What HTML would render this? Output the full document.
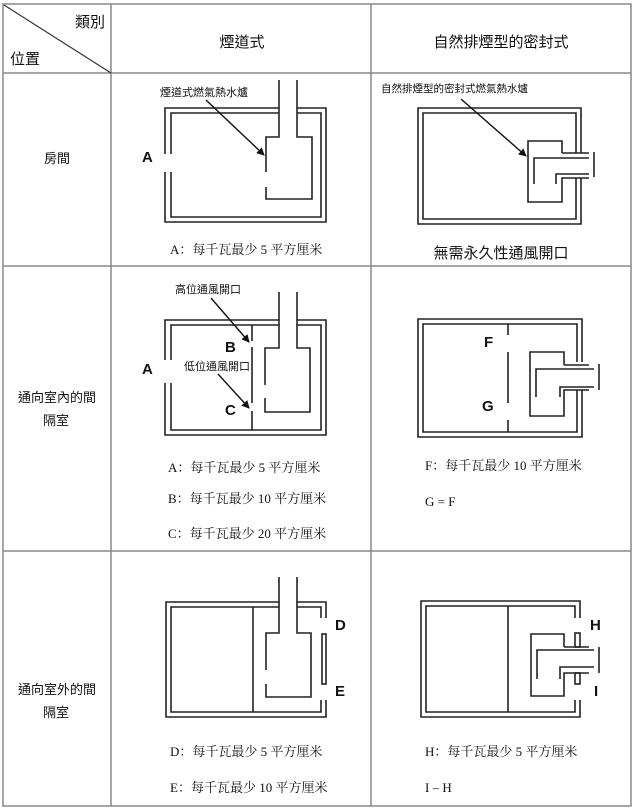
<!DOCTYPE html>
<html><head><meta charset="utf-8"><style>
html,body{margin:0;padding:0;background:#fff;width:634px;height:808px;overflow:hidden}
svg text{font-family:"Liberation Sans","Noto Sans CJK TC",sans-serif;fill:#111}
.s{font-family:"Liberation Serif","Noto Serif CJK SC",serif !important}
.b{font-weight:bold;font-size:15px}
</style></head><body>
<svg width="634" height="808" viewBox="0 0 634 808" xmlns="http://www.w3.org/2000/svg">
<defs><marker id="ar" markerWidth="8" markerHeight="8" refX="7" refY="4" orient="auto" markerUnits="userSpaceOnUse"><path d="M0,0 L8,4 L0,8 z" fill="#111"/></marker></defs>
<!-- table -->
<g stroke="#888" stroke-width="1.5" fill="none">
<rect x="3" y="4" width="628" height="802"/>
<line x1="111" y1="4" x2="111" y2="806"/>
<line x1="371" y1="4" x2="371" y2="806"/>
<line x1="3" y1="73" x2="631" y2="73"/>
<line x1="3" y1="266" x2="631" y2="266"/>
<line x1="3" y1="551" x2="631" y2="551"/>
</g>
<line x1="4" y1="5" x2="111" y2="73" stroke="#333" stroke-width="1.2"/>
<text x="75" y="27" font-size="15">類別</text>
<text x="10" y="64" font-size="15">位置</text>
<text x="242" y="47" font-size="15" text-anchor="middle">煙道式</text>
<text x="501" y="47" font-size="15" text-anchor="middle">自然排煙型的密封式</text>
<text x="57" y="163" font-size="13" text-anchor="middle">房間</text>
<text x="18" y="402" font-size="13">通向室內的間</text>
<text x="43" y="425" font-size="13">隔室</text>
<text x="18" y="694" font-size="13">通向室外的間</text>
<text x="43" y="717" font-size="13">隔室</text>

<g stroke="#222" stroke-width="1.6" fill="none">
<!-- cell 1 left -->
<polyline points="165,154 165,108 279,108"/><polyline points="297,108 326,108 326,222 165,222 165,172"/>
<polyline points="171,154 171,113 279,113"/><polyline points="297,113 321,113 321,217 171,217 171,172"/>
<polyline points="279,80 279,137 266,137 266,172"/>
<polyline points="297,80 297,137 312,137 312,199 266,199 266,187"/>
<!-- cell 1 right -->
<polyline points="581,153 581,108 418,108 418,224 581,224 581,178"/>
<polyline points="576,153 576,113 423,113 423,219 576,219 576,178"/>
<polyline points="562,153 562,141 528,141 528,202 562,202 562,178 589,178"/>
<polyline points="562,153 589,153"/>
<polyline points="534,184 534,158 589,158"/>
<polyline points="556,184 556,174 589,174"/>
<line x1="594" y1="152" x2="594" y2="177"/>
<!-- cell 2 left -->
<polyline points="165,360 165,320 279,320"/><polyline points="297,320 326,320 326,435 165,435 165,383"/>
<polyline points="171,360 171,325 279,325"/><polyline points="297,325 321,325 321,430 171,430 171,383"/>
<line x1="252" y1="325" x2="252" y2="341"/><line x1="252" y1="347" x2="252" y2="403"/><line x1="252" y1="411" x2="252" y2="430"/>
<polyline points="279,292 279,348 265,348 265,385"/>
<polyline points="297,292 297,348 310,348 310,412 265,412 265,398"/>
<!-- cell 2 right -->
<polyline points="582,362 582,319 418,319 418,437 582,437 582,390"/>
<polyline points="577,362 577,324 423,324 423,432 577,432 577,390"/>
<line x1="508" y1="324" x2="508" y2="335"/><line x1="508" y1="352" x2="508" y2="403"/><line x1="508" y1="420" x2="508" y2="432"/>
<polyline points="564,365 564,352 530,352 530,416 564,416 564,390 589,390"/>
<polyline points="564,365 589,365"/>
<polyline points="536,397 536,369 594,369"/>
<polyline points="560,397 560,387 594,387"/>
<line x1="599" y1="364" x2="599" y2="390"/>
<!-- cell 3 left -->
<polyline points="279,602 166,602 166,717 326,717 326,700"/><polyline points="297,602 326,602 326,618"/>
<polyline points="279,607 171,607 171,712 321,712 321,700"/><polyline points="297,607 321,607 321,618"/>
<rect x="322" y="634" width="4" height="50"/>
<line x1="253" y1="607" x2="253" y2="712"/>
<polyline points="279,577 279,633 266,633 266,670"/>
<polyline points="297,577 297,633 311,633 311,697 266,697 266,684"/>
<!-- cell 3 right -->
<polyline points="580,618 580,601 421,601 421,717 580,717 580,700"/>
<polyline points="575,618 575,606 426,606 426,712 575,712 575,700"/>
<line x1="508" y1="606" x2="508" y2="712"/>
<rect x="575" y="633" width="5" height="14"/><rect x="575" y="673" width="5" height="11"/>
<polyline points="564,647 564,634 531,634 531,696 564,696 564,673 589,673"/>
<polyline points="564,647 589,647"/>
<polyline points="537,679 537,650 594,650"/>
<polyline points="560,679 560,667 594,667"/>
<line x1="599" y1="647" x2="599" y2="673"/>
</g>
<g stroke="#111" stroke-width="1.4">
<line x1="206" y1="100" x2="264" y2="155" marker-end="url(#ar)"/>
<line x1="461" y1="99" x2="526" y2="156" marker-end="url(#ar)"/>
<line x1="211" y1="298" x2="249" y2="342" marker-end="url(#ar)"/>
<line x1="218" y1="374" x2="249" y2="408" marker-end="url(#ar)"/>
</g>
<text x="160" y="96" font-size="11">煙道式燃氣熱水爐</text>
<text x="381" y="92" font-size="10.5">自然排煙型的密封式燃氣熱水爐</text>
<text x="175" y="293" font-size="11">高位通風開口</text>
<text x="184" y="370" font-size="11">低位通風開口</text>
<text class="b" x="142" y="162">A</text>
<text class="b" x="142" y="374">A</text>
<text class="b" x="225" y="352">B</text>
<text class="b" x="225" y="415">C</text>
<text class="b" x="484" y="347">F</text>
<text class="b" x="482" y="411">G</text>
<text class="b" x="335" y="630">D</text>
<text class="b" x="335" y="696">E</text>
<text class="b" x="590" y="630">H</text>
<text class="b" x="594" y="696">I</text>
<g font-size="13">
<text class="s" x="170" y="254">A：每千瓦最少 5 平方厘米</text>
<text x="501" y="258" font-size="15" text-anchor="middle">無需永久性通風開口</text>
<text class="s" x="168" y="472">A：每千瓦最少 5 平方厘米</text>
<text class="s" x="168" y="503">B：每千瓦最少 10 平方厘米</text>
<text class="s" x="168" y="538">C：每千瓦最少 20 平方厘米</text>
<text class="s" x="425" y="470">F：每千瓦最少 10 平方厘米</text>
<text class="s" x="425" y="506">G = F</text>
<text class="s" x="170" y="756">D：每千瓦最少 5 平方厘米</text>
<text class="s" x="170" y="792">E：每千瓦最少 10 平方厘米</text>
<text class="s" x="425" y="756">H：每千瓦最少 5 平方厘米</text>
<text class="s" x="425" y="792">I – H</text>
</g>
</svg>
</body></html>
